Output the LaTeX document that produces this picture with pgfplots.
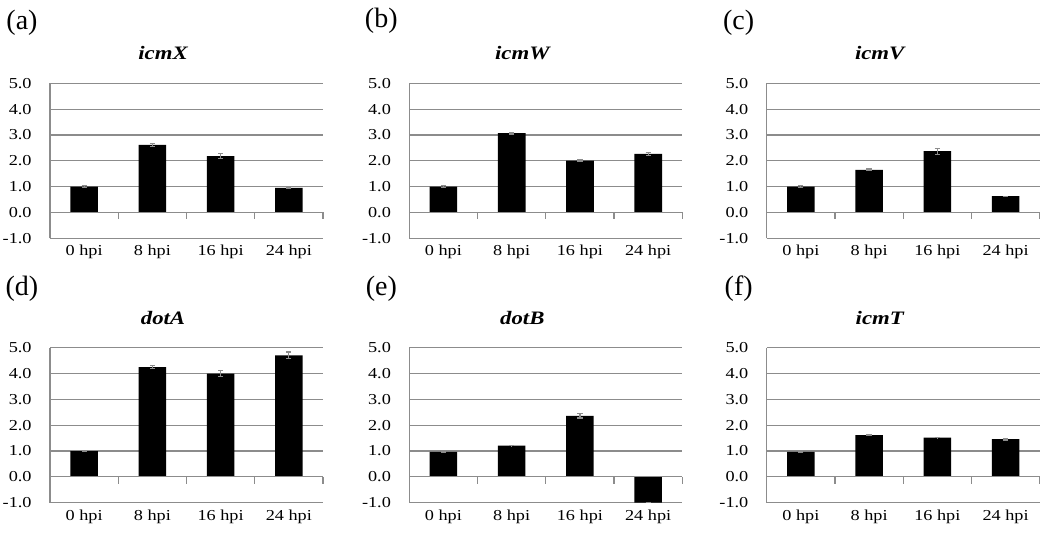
\documentclass[border=0pt]{standalone}
\usepackage{fontspec}
\setmainfont{Liberation Serif}[FakeStretch=1.2]
\newfontfamily\labelfont{Liberation Serif}
\usepackage{pgfplots}
\pgfplotsset{compat=1.18}
\usepackage{pgfplotstable}

\pgfplotstableread{
x y e
0 1.00 0.03
1 2.62 0.06
2 2.18 0.09
3 0.95 0.02
}\dataA
\pgfplotstableread{
x y e
0 1.00 0.03
1 3.07 0.03
2 2.01 0.02
3 2.27 0.05
}\dataB
\pgfplotstableread{
x y e
0 1.00 0.03
1 1.65 0.03
2 2.37 0.12
3 0.63 0.00
}\dataC
\pgfplotstableread{
x y e
0 1.00 0.03
1 4.25 0.05
2 4.00 0.11
3 4.70 0.13
}\dataD
\pgfplotstableread{
x y e
0 0.97 0.03
1 1.21 0.01
2 2.36 0.08
3 -1.00 0.00
}\dataE
\pgfplotstableread{
x y e
0 0.97 0.03
1 1.62 0.03
2 1.52 0.01
3 1.46 0.03
}\dataF

\pgfplotsset{panel/.style={
  scale only axis, width=136.5pt, height=77.5pt,
  xmin=-0.5, xmax=3.5, ymin=-1, ymax=5,
  clip mode=individual,
  xtick={0,1,2,3}, xticklabels={0 hpi,8 hpi,16 hpi,24 hpi},
  ytick={-1,0,...,5},
  ymajorgrids, grid style={color=black!45, line width=0.6pt},
  axis lines*=left,
  x axis line style={draw=none},
  y axis line style={draw=black!45, line width=0.6pt},
  major tick length=0pt,
  /pgf/number format/assume math mode=true,
  tick label style={font=\fontsize{7.6}{9}\selectfont},
  yticklabel style={anchor=east, inner sep=0pt, xshift=-9pt,
    /pgf/number format/fixed, /pgf/number format/fixed zerofill,
    /pgf/number format/precision=1, /pgf/number format/assume math mode=true},
  xticklabel style={anchor=north, inner sep=0pt, yshift=-3.3pt},
  title style={at={(0.414,1)}, anchor=center, yshift=9pt,
    font=\fontsize{9.5}{11}\selectfont\bfseries\itshape},
}}

\newcommand{\panelbars}[1]{%
  \addplot[ybar, bar width=0.405, fill=black, draw=none,
    error bars/.cd, y dir=both, y explicit,
    error bar style={black!45, line width=0.6pt},
    error mark options={black!45, mark size=1.3pt, line width=0.6pt, rotate=90}]
    table[x=x, y=y, y error=e]{#1};
  \draw[black!45, line width=0.6pt] (axis cs:-0.5,0) -- (axis cs:3.5,0);
  \draw[black!45, line width=0.6pt]
    (axis cs:-0.5,0) -- ++(0pt,-3.5pt)
    (axis cs:0.5,0) -- ++(0pt,-3.5pt)
    (axis cs:1.5,0) -- ++(0pt,-3.5pt)
    (axis cs:2.5,0) -- ++(0pt,-3.5pt)
    (axis cs:3.5,0) -- ++(0pt,-3.5pt);
}
\newcommand{\panellabel}[2]{%
  \node[font=\labelfont\fontsize{14}{16}\selectfont, anchor=center, xshift=-14pt, yshift=#2]
    at (rel axis cs:0,1) {#1};
}

\begin{document}
\begin{tikzpicture}
\useasboundingbox (0,0) rectangle (525pt,268pt);

\begin{axis}[panel, at={(25pt,148.85pt)}, anchor=south west, title={icmX}]
\panelbars{\dataA}
\panellabel{(a)}{30.5pt}
\end{axis}

\begin{axis}[panel, at={(204.65pt,148.85pt)}, anchor=south west, title={icmW}]
\panelbars{\dataB}
\panellabel{(b)}{31.5pt}
\end{axis}

\begin{axis}[panel, at={(383.35pt,148.85pt)}, anchor=south west, title={icmV}]
\panelbars{\dataC}
\panellabel{(c)}{30.5pt}
\end{axis}

\begin{axis}[panel, at={(25pt,16.65pt)}, anchor=south west, title={dotA}]
\panelbars{\dataD}
\panellabel{(d)}{29.3pt}
\end{axis}

\begin{axis}[panel, at={(204.65pt,16.65pt)}, anchor=south west, title={dotB}]
\panelbars{\dataE}
\panellabel{(e)}{29.3pt}
\end{axis}

\begin{axis}[panel, at={(383.35pt,16.65pt)}, anchor=south west, title={icmT}]
\panelbars{\dataF}
\panellabel{(f)}{29.3pt}
\end{axis}
\end{tikzpicture}
\end{document}
